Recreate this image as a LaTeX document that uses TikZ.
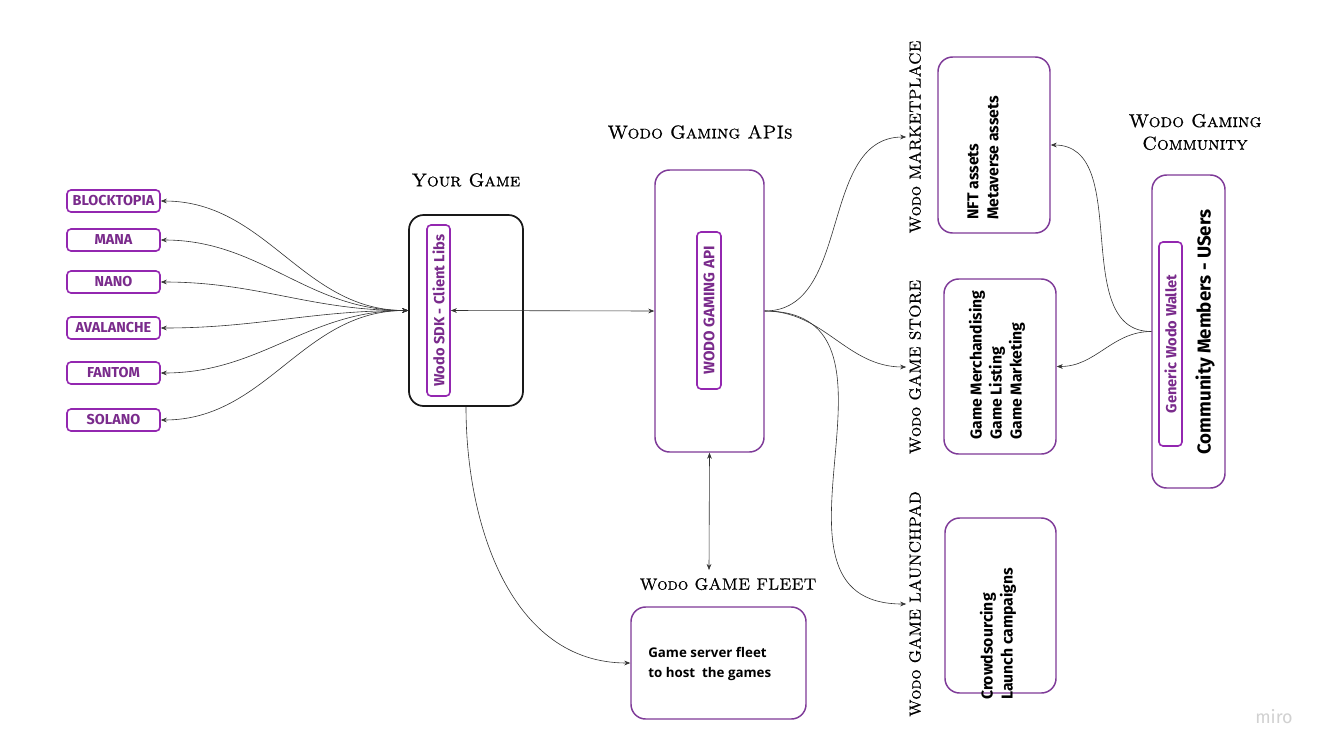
\documentclass[tikz,border=0pt]{standalone}
\usepackage{fontspec}
\setsansfont{Fira Sans}
\newfontfamily\fleetfont{Open Sans}
\newfontfamily\titlefont{lmroman10-regular.otf}[SmallCapsFont=lmromancaps10-regular.otf, SmallCapsFeatures={FakeBold=0.7}, FakeBold=0.7]
\usetikzlibrary{arrows.meta}
\definecolor{wodopurple}{HTML}{9327B0}
\definecolor{wodoborder}{HTML}{7E3A98}
\definecolor{wodotext}{HTML}{7A2B8C}

\begin{document}
\begin{tikzpicture}[x=0.75pt, y=-0.75pt,
		chainbox/.style={draw=wodopurple, line width=1.2pt, rounded corners=3pt, minimum width=69.75pt, minimum height=16.5pt, inner sep=0pt, text=wodotext, font=\sffamily\bfseries\fontsize{10.8}{11}\selectfont},
		bigbox/.style={draw=wodoborder, line width=1.1pt, rounded corners=11pt, inner sep=0pt},
		libbox/.style={draw=wodopurple, line width=1.2pt, rounded corners=3pt, inner sep=0pt, rotate=90, text=wodotext},
		title/.style={font=\titlefont\scshape\fontsize{14}{17}\selectfont, inner sep=2pt, align=center},
		sidetitle/.style={title, rotate=90, font=\titlefont\scshape\fontsize{12}{14}\selectfont},
		boxtext/.style={font=\sffamily\bfseries\fontsize{11.8}{15}\selectfont, inner sep=0pt, align=left, rotate=90, anchor=west},
		link/.style={draw=black!80, line width=0.45pt, {Stealth[length=4.5pt, width=3.5pt]}-{Stealth[length=4.5pt, width=3.5pt]}},
		onearrow/.style={draw=black!80, line width=0.45pt, -{Stealth[length=4.5pt, width=3.5pt]}}]
				\useasboundingbox (0, 0) rectangle (1325, 754);
				\fill [white] (0, 0) rectangle (1325, 754);

				\node [chainbox] (blocktopia) at (113.5, 201) {BLOCKTOPIA};
				\node [chainbox] (mana) at (113.5, 240) {MANA};
				\node [chainbox] (nano) at (113.5, 282) {NANO};
				\node [chainbox] (avalanche) at (113.5, 328) {AVALANCHE};
				\node [chainbox] (fantom) at (113.5, 373) {FANTOM};
				\node [chainbox] (solano) at (113.5, 420) {SOLANO};

				\node [title] (gametitle) at (466, 180) {Your Game};
				\node [draw=black!90, line width=1.3pt, rounded corners=11pt, minimum width=85.5pt, minimum height=143.25pt] (game) at (466, 310.5) {};
				\node [libbox, minimum width=128.25pt, minimum height=17.25pt, font=\sffamily\bfseries\fontsize{11}{11}\selectfont] (sdk) at (438.5, 310.5) {Wodo SDK - Client Libs};

				\node [title] (apititle) at (700, 132) {Wodo Gaming APIs};
				\node [bigbox, minimum width=81.75pt, minimum height=211.5pt] (api) at (709.5, 311) {};
				\node [libbox, minimum width=117.75pt, minimum height=18pt, font=\sffamily\bfseries\fontsize{11.4}{11}\selectfont] (gamingapi) at (709, 310.5) {WODO GAMING API};

				\node [title, font=\titlefont\scshape\fontsize{12.3}{14}\selectfont] (fleettitle) at (728, 584) {Wodo GAME FLEET};
				\node [bigbox, minimum width=131.25pt, minimum height=84pt] (fleet) at (718.5, 663) {};
				\node [font=\fleetfont\bfseries\fontsize{10}{15}\selectfont, align=left, anchor=west, inner sep=0pt] (fleettext) at (648, 664) {Game server fleet\\to host\ \ the games};
				\coordinate (fleettop) at (709, 570);

				\node [sidetitle] (markettitle) at (915, 137) {Wodo MARKETPLACE};
				\node [bigbox, minimum width=84pt, minimum height=132pt] (market) at (994, 145) {};
				\node [boxtext] (markettext) at (983, 220) {NFT assets\\Metaverse assets};

				\node [sidetitle] (storetitle) at (915, 367) {Wodo GAME STORE};
				\node [bigbox, minimum width=84pt, minimum height=131.25pt] (store) at (1000, 366.5) {};
				\node [boxtext] (storetext) at (997, 440) {Game Merchandising\\Game Listing\\Game Marketing};

				\node [sidetitle] (launchtitle) at (915, 604) {Wodo GAME LAUNCHPAD};
				\node [bigbox, minimum width=83.25pt, minimum height=131.25pt] (launch) at (1000.5, 605.5) {};
				\node [boxtext] (launchtext) at (998, 700) {Crowdsourcing\\Launch campaigns};

				\node [title] (commtitle) at (1195, 132) {Wodo Gaming\\Community};
				\node [bigbox, minimum width=54.75pt, minimum height=234.75pt] (comm) at (1188.5, 331.5) {};
				\node [libbox, minimum width=153pt, minimum height=17.25pt, font=\sffamily\bfseries\fontsize{11}{11}\selectfont] (wallet) at (1170.5, 344) {Generic Wodo Wallet};
				\node [font=\sffamily\bfseries\fontsize{14}{15}\selectfont, rotate=90, inner sep=0pt] (members) at (1205, 332) {Community Members - USers};

				\node [text=black!18, font=\sffamily\fontsize{13.5}{14}\selectfont] (miro) at (1274, 717) {miro};

				\foreach \c in {blocktopia, mana, nano, avalanche, fantom, solano}
					\draw [link] (game.west) to [out=180, in=0] (\c.east);
				\draw [link] (sdk.south) -- (api.west);
				\draw [link] (api.south) -- (fleettop);
				\draw [onearrow] (game.south) to [out=-90, in=180] (fleet.west);
				\draw [onearrow] (api.east) to [out=0, in=180] (markettitle.north);
				\draw [onearrow] (api.east) to [out=0, in=180] (storetitle.north);
				\draw [onearrow] (api.east) to [out=0, in=180, looseness=1.3] (launchtitle.north);
				\draw [onearrow] (comm.west) to [out=180, in=0] (market.east);
				\draw [onearrow] (comm.west) to [out=180, in=0] (store.east);
			\end{tikzpicture}
\end{document}
